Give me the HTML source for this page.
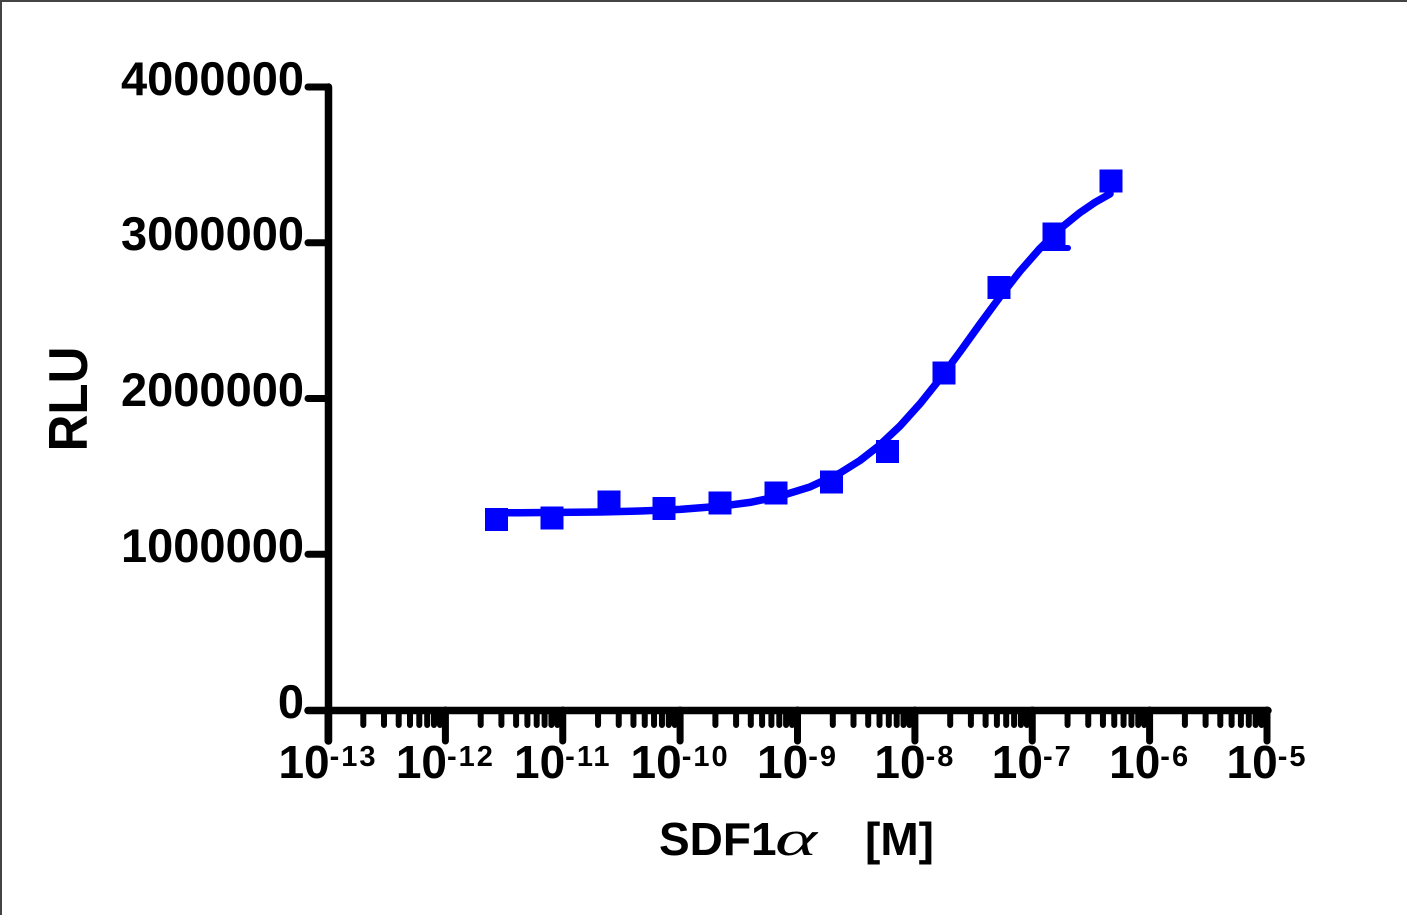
<!DOCTYPE html>
<html><head><meta charset="utf-8"><style>
html,body{margin:0;padding:0;background:#fff;}
svg{display:block;}
text{font-family:"Liberation Sans",Arial,sans-serif;font-weight:bold;fill:#000;}
</style></head><body>
<svg width="1407" height="915" viewBox="0 0 1407 915" xmlns="http://www.w3.org/2000/svg">
<rect x="0" y="0" width="1407" height="915" fill="#fff"/>
<line x1="0" y1="1" x2="1407" y2="1" stroke="#444" stroke-width="2"/>
<line x1="1" y1="0" x2="1" y2="915" stroke="#444" stroke-width="2"/>

<g stroke="#000" stroke-linecap="round" fill="none">
  <!-- y axis -->
  <line x1="328.5" y1="87" x2="328.5" y2="741" stroke-width="7.5"/>
  <line x1="308" y1="87" x2="328" y2="87" stroke-width="7"/>
  <line x1="308" y1="242.75" x2="328" y2="242.75" stroke-width="7"/>
  <line x1="308" y1="398.5" x2="328" y2="398.5" stroke-width="7"/>
  <line x1="308" y1="554.25" x2="328" y2="554.25" stroke-width="7"/>
  <!-- x axis -->
  <line x1="308" y1="710.5" x2="1268" y2="710.5" stroke-width="7.5"/>
  <!-- major ticks -->
  <path stroke-width="7" d="M328,710V741 M445.4,710V741 M562.75,710V741 M680.1,710V741 M797.5,710V741 M914.9,710V741 M1032.25,710V741 M1149.6,710V741 M1267,710V741"/>
  <!-- minor ticks -->
  <path stroke-width="6" d="
  M363.3,710V725 M384,710V725 M398.7,710V725 M410,710V725 M419.3,710V725 M427.2,710V725 M434,710V725 M440,710V725
  M480.7,710V725 M501.4,710V725 M516.1,710V725 M527.4,710V725 M536.7,710V725 M544.6,710V725 M551.4,710V725 M557.4,710V725
  M598.05,710V725 M618.75,710V725 M633.45,710V725 M644.75,710V725 M654.05,710V725 M661.95,710V725 M668.75,710V725 M674.75,710V725
  M715.4,710V725 M736.1,710V725 M750.8,710V725 M762.1,710V725 M771.4,710V725 M779.3,710V725 M786.1,710V725 M792.1,710V725
  M832.8,710V725 M853.5,710V725 M868.2,710V725 M879.5,710V725 M888.8,710V725 M896.7,710V725 M903.5,710V725 M909.5,710V725
  M950.2,710V725 M970.9,710V725 M985.6,710V725 M996.9,710V725 M1006.2,710V725 M1014.1,710V725 M1020.9,710V725 M1026.9,710V725
  M1067.55,710V725 M1088.25,710V725 M1102.95,710V725 M1114.25,710V725 M1123.55,710V725 M1131.45,710V725 M1138.25,710V725 M1144.25,710V725
  M1184.9,710V725 M1205.6,710V725 M1220.3,710V725 M1231.6,710V725 M1240.9,710V725 M1248.8,710V725 M1255.6,710V725 M1261.6,710V725"/>
</g>

<!-- y tick labels -->
<g font-size="47" text-anchor="end">
  <text x="304" y="95">4000000</text>
  <text x="304" y="250">3000000</text>
  <text x="304" y="406">2000000</text>
  <text x="304" y="562">1000000</text>
  <text x="304" y="718">0</text>
</g>

<!-- x tick labels -->
<g text-anchor="middle">
  <text x="328" y="778"><tspan font-size="46">10</tspan><tspan font-size="29" dy="-12" letter-spacing="2">-13</tspan></text>
  <text x="445.4" y="778"><tspan font-size="46">10</tspan><tspan font-size="29" dy="-12" letter-spacing="2">-12</tspan></text>
  <text x="562.75" y="778"><tspan font-size="46">10</tspan><tspan font-size="29" dy="-12" letter-spacing="2">-11</tspan></text>
  <text x="680.1" y="778"><tspan font-size="46">10</tspan><tspan font-size="29" dy="-12" letter-spacing="2">-10</tspan></text>
  <text x="797.5" y="778"><tspan font-size="46">10</tspan><tspan font-size="29" dy="-12" letter-spacing="2">-9</tspan></text>
  <text x="914.9" y="778"><tspan font-size="46">10</tspan><tspan font-size="29" dy="-12" letter-spacing="2">-8</tspan></text>
  <text x="1032.25" y="778"><tspan font-size="46">10</tspan><tspan font-size="29" dy="-12" letter-spacing="2">-7</tspan></text>
  <text x="1149.6" y="778"><tspan font-size="46">10</tspan><tspan font-size="29" dy="-12" letter-spacing="2">-6</tspan></text>
  <text x="1267" y="778"><tspan font-size="46">10</tspan><tspan font-size="29" dy="-12" letter-spacing="2">-5</tspan></text>
</g>

<!-- axis titles -->
<text font-size="51" text-anchor="middle" transform="translate(87,399) rotate(-90) scale(1,1.08)">RLU</text>
<text font-size="46" x="659" y="855">SDF1</text>
<text font-size="50" transform="translate(775,855) scale(1.6,1)" style="font-family:'Liberation Serif',serif;font-style:italic;font-weight:normal">α</text>
<text font-size="46" x="865" y="855">[M]</text>

<!-- fitted curve -->
<path fill="none" stroke="#0000ff" stroke-width="7.5" stroke-linecap="round" stroke-linejoin="round" d="
M490,512.8 L520,512.7 L560,512.4 L600,512 L640,511 L680,509.4 L720,506.3 L750,502.4 L780,496.2 L810,486.9 L840,473 L860,460.5 L880,444.9 L900,426 L920,403.8 L940,378.8 L960,351.8 L980,324 L1000,296.8 L1020,271.2 L1040,248.4 L1060,228.8 L1080,212.6 L1095,202.4 L1110,193.9"/>

<!-- error bar on point 11 -->
<line x1="1040" y1="248" x2="1068" y2="248" stroke="#0000ff" stroke-width="6" stroke-linecap="round"/>
<line x1="1054" y1="234" x2="1054" y2="248" stroke="#0000ff" stroke-width="6"/>

<!-- data points -->
<g fill="#0000ff">
  <rect x="485" y="508" width="23" height="23"/>
  <rect x="540.5" y="506.5" width="23" height="23"/>
  <rect x="597.5" y="490.5" width="23" height="23"/>
  <rect x="652.5" y="497" width="23" height="23"/>
  <rect x="708.5" y="491.5" width="23" height="23"/>
  <rect x="764.5" y="481.5" width="23" height="23"/>
  <rect x="820" y="470.5" width="23" height="23"/>
  <rect x="876" y="440" width="23" height="23"/>
  <rect x="932.5" y="361.5" width="23" height="23"/>
  <rect x="987.5" y="276" width="23" height="23"/>
  <rect x="1042.5" y="222.5" width="23" height="23"/>
  <rect x="1099.5" y="169.5" width="23" height="23"/>
</g>
</svg>
</body></html>
